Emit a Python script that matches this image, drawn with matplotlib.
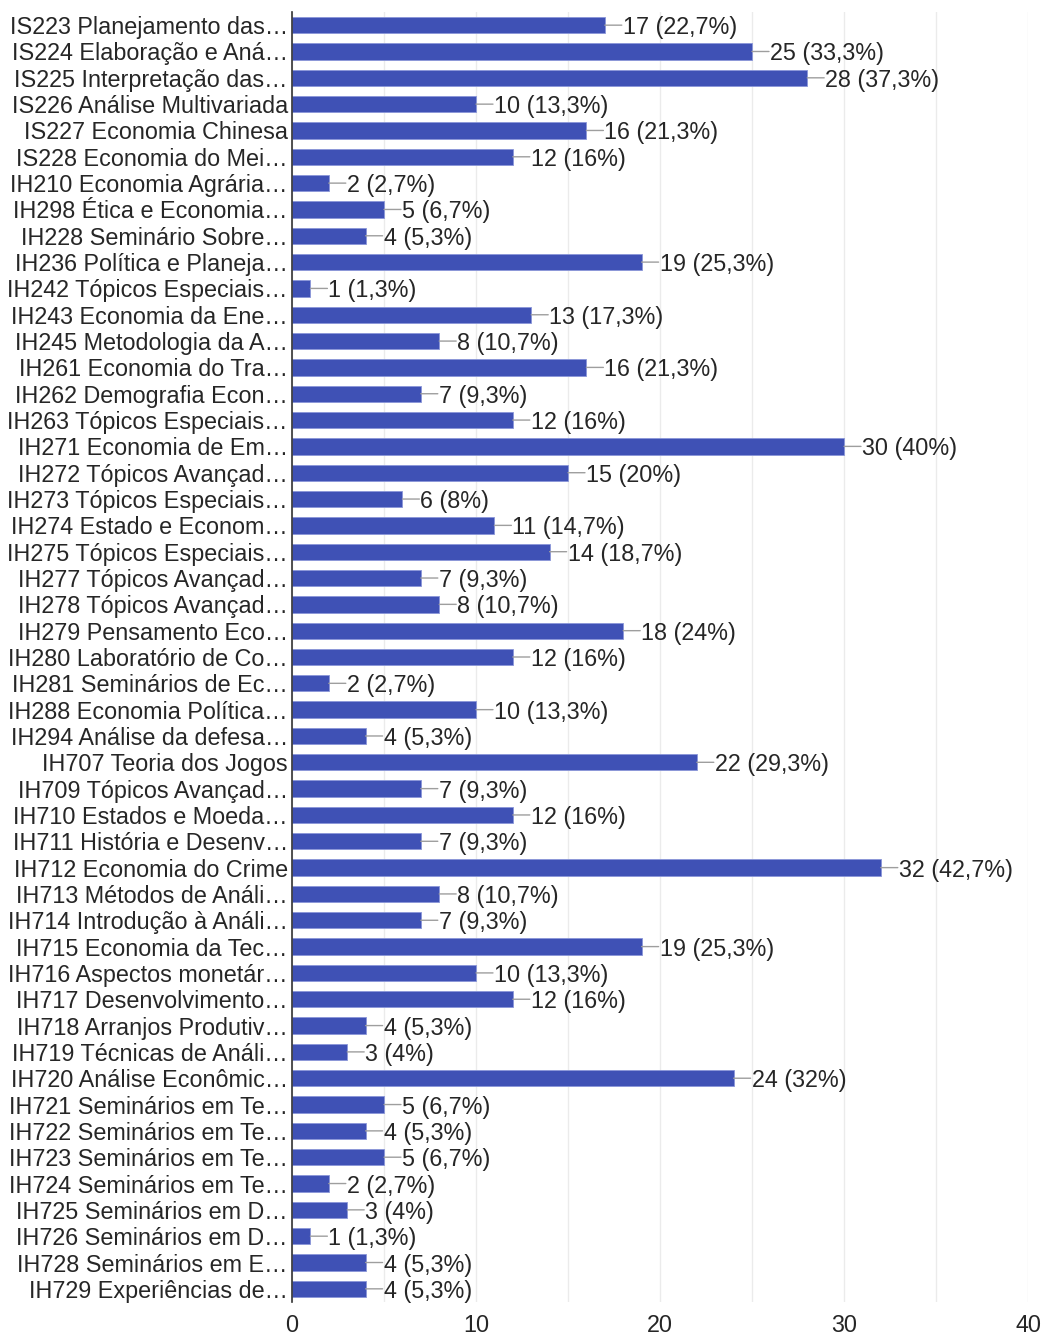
import matplotlib
matplotlib.use("Agg")
import matplotlib.pyplot as plt
from matplotlib.ticker import MultipleLocator

categories = [
    "IS223 Planejamento das…", "IS224 Elaboração e Aná…", "IS225 Interpretação das…",
    "IS226 Análise Multivariada", "IS227 Economia Chinesa", "IS228 Economia do Mei…",
    "IH210 Economia Agrária…", "IH298 Ética e Economia…", "IH228 Seminário Sobre…",
    "IH236 Política e Planeja…", "IH242 Tópicos Especiais…", "IH243 Economia da Ene…",
    "IH245 Metodologia da A…", "IH261 Economia do Tra…", "IH262 Demografia Econ…",
    "IH263 Tópicos Especiais…", "IH271 Economia de Em…", "IH272 Tópicos Avançad…",
    "IH273 Tópicos Especiais…", "IH274 Estado e Econom…", "IH275 Tópicos Especiais…",
    "IH277 Tópicos Avançad…", "IH278 Tópicos Avançad…", "IH279 Pensamento Eco…",
    "IH280 Laboratório de Co…", "IH281 Seminários de Ec…", "IH288 Economia Política…",
    "IH294 Análise da defesa…", "IH707 Teoria dos Jogos", "IH709 Tópicos Avançad…",
    "IH710 Estados e Moeda…", "IH711 História e Desenv…", "IH712 Economia do Crime",
    "IH713 Métodos de Análi…", "IH714 Introdução à Análi…", "IH715 Economia da Tec…",
    "IH716 Aspectos monetár…", "IH717 Desenvolvimento…", "IH718 Arranjos Produtiv…",
    "IH719 Técnicas de Análi…", "IH720 Análise Econômic…", "IH721 Seminários em Te…",
    "IH722 Seminários em Te…", "IH723 Seminários em Te…", "IH724 Seminários em Te…",
    "IH725 Seminários em D…", "IH726 Seminários em D…", "IH728 Seminários em E…",
    "IH729 Experiências de…",
]
counts = [17, 25, 28, 10, 16, 12, 2, 5, 4, 19, 1, 13, 8, 16, 7, 12, 30, 15, 6, 11, 14,
          7, 8, 18, 12, 2, 10, 4, 22, 7, 12, 7, 32, 8, 7, 19, 10, 12, 4, 3, 24, 5, 4,
          5, 2, 3, 1, 4, 4]
percents = ["22,7%", "33,3%", "37,3%", "13,3%", "21,3%", "16%", "2,7%", "6,7%", "5,3%",
            "25,3%", "1,3%", "17,3%", "10,7%", "21,3%", "9,3%", "16%", "40%", "20%", "8%",
            "14,7%", "18,7%", "9,3%", "10,7%", "24%", "16%", "2,7%", "13,3%", "5,3%",
            "29,3%", "9,3%", "16%", "9,3%", "42,7%", "10,7%", "9,3%", "25,3%", "13,3%",
            "16%", "5,3%", "4%", "32%", "6,7%", "5,3%", "6,7%", "2,7%", "4%", "1,3%",
            "5,3%", "5,3%"]
x_ticks = [0, 10, 20, 30, 40]

plt.rcParams['font.family'] = ['Liberation Sans', 'DejaVu Sans']
FS = 16.8
TXT = "#262626"

fig = plt.figure(figsize=(10.42, 13.35), dpi=100)
ax = fig.add_axes([292/1042, 1 - 1302/1335, (1028-292)/1042, (1302-12)/1335])

ypos = list(range(len(categories)))
ax.barh(ypos, counts, height=0.62, color="#3f51b5", edgecolor="#8a96d8", linewidth=0.6, zorder=3)

for y, c, p in zip(ypos, counts, percents):
    ax.annotate("", xy=(c, y), xytext=(17, 0), textcoords="offset pixels",
                arrowprops=dict(arrowstyle="-", color="#9e9e9e", lw=1.0,
                                shrinkA=0, shrinkB=0),
                zorder=4)
    ax.annotate(f"{c} ({p})", xy=(c, y), xytext=(18, 0), textcoords="offset pixels",
                ha="left", va="center_baseline", fontsize=FS, color=TXT, zorder=4)

ax.set_xlim(0, 40)
ax.set_ylim(len(categories) - 0.5, -0.5)
ax.set_yticks(ypos)
ax.set_yticklabels(categories, fontsize=FS, color=TXT, va="center_baseline")
ax.set_xticks(x_ticks)
ax.set_xticklabels([str(t) for t in x_ticks], fontsize=FS, color=TXT)
ax.xaxis.set_minor_locator(MultipleLocator(5))
ax.grid(axis="x", which="both", color="#ebebeb", linewidth=1.0, zorder=0)
ax.tick_params(axis="both", which="both", length=0)
ax.tick_params(axis="y", pad=3)
ax.tick_params(axis="x", pad=9)
for s in ["top", "right", "bottom"]:
    ax.spines[s].set_visible(False)
ax.spines["left"].set_color("#333333")
ax.spines["left"].set_linewidth(1.2)
ax.spines["left"].set_zorder(5)

fig.savefig("out.png", dpi=100)
